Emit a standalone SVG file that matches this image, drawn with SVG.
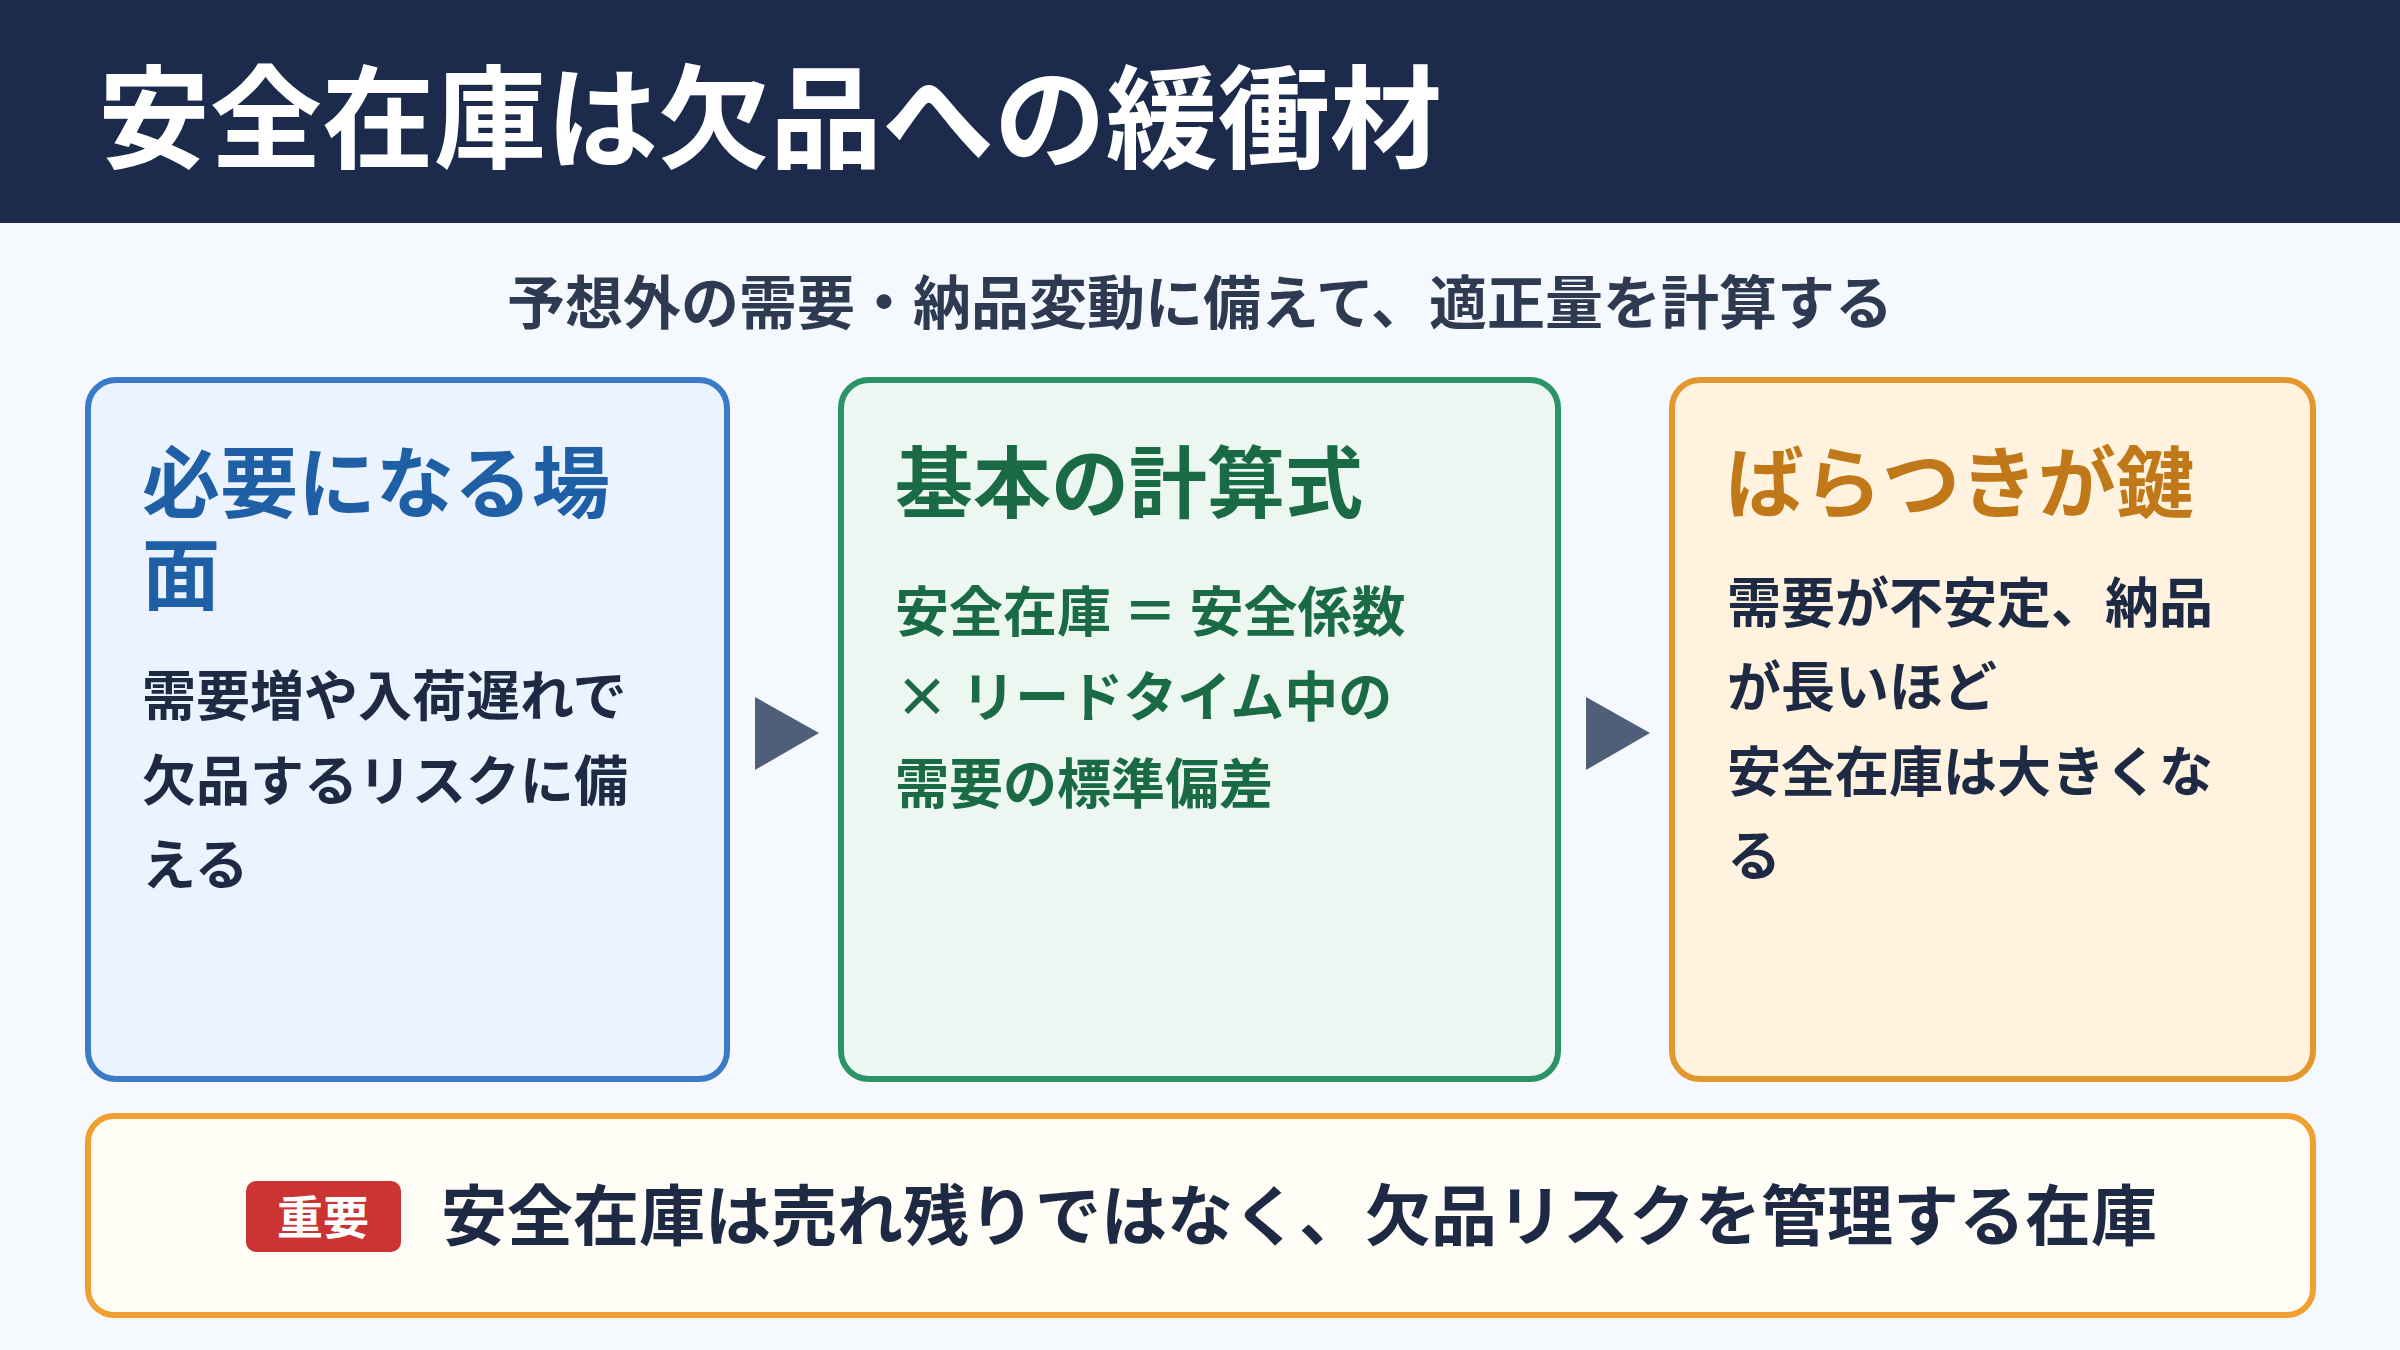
<svg xmlns="http://www.w3.org/2000/svg" width="2400" height="1350" viewBox="0 0 2400 1350">
<style>
text{font-family:"Noto Sans CJK JP","Noto Sans",sans-serif;font-weight:700}
.t{font-size:78px}
.b{font-size:54px;fill:#1e2a44}
.g{font-size:54px;fill:#1a6b45}
</style>
<rect width="2400" height="1350" fill="#f5f8fc"/>
<g id="header"><rect width="2400" height="223" fill="#1c2b4b"/>
<text x="98" y="160" font-size="112" fill="#fff">安全在庫は欠品への緩衝材</text></g>
<text id="subtitle" x="1200" y="324" font-size="58" fill="#2e3a52" text-anchor="middle">予想外の需要・納品変動に備えて、適正量を計算する</text>
<g id="box1"><rect x="88" y="380" width="639" height="699" rx="28" fill="#eaf3fe" stroke="#3a7bc8" stroke-width="6"/>
<text class="t" x="142" y="512" fill="#1f5fa6">必要になる場</text>
<text class="t" x="142" y="604" fill="#1f5fa6">面</text>
<text class="b" x="142" y="716">需要増や入荷遅れで</text>
<text class="b" x="142" y="801">欠品するリスクに備</text>
<text class="b" x="142" y="885">える</text></g>
<g id="box2"><rect x="841" y="380" width="717" height="699" rx="28" fill="#edf7f1" stroke="#2a9466" stroke-width="6"/>
<text class="t" x="895" y="512" fill="#1a6b45">基本の計算式</text>
<text class="g" x="895" y="632" xml:space="preserve">安全在庫 ＝ 安全係数</text>
<text class="g" x="895" y="717">× リードタイム中の</text>
<text class="g" x="895" y="804">需要の標準偏差</text></g>
<g id="box3"><rect x="1672" y="380" width="641" height="699" rx="28" fill="#fff3df" stroke="#e3982e" stroke-width="6"/>
<text class="t" x="1726" y="512" fill="#c07818">ばらつきが鍵</text>
<text class="b" x="1727" y="623">需要が不安定、納品</text>
<text class="b" x="1727" y="707">が長いほど</text>
<text class="b" x="1727" y="792">安全在庫は大きくな</text>
<text class="b" x="1727" y="876">る</text></g>
<g id="connectors" fill="#4f5f7a">
<polygon points="755,697 819,733 755,770"/>
<polygon points="1586,697 1650,733 1586,770"/></g>
<g id="note"><rect x="88" y="1116" width="2225" height="199" rx="26" fill="#fffdf6" stroke="#f0a030" stroke-width="6"/>
<rect x="246" y="1181" width="155" height="71" rx="10" fill="#cc3333"/>
<text x="323" y="1234" font-size="46" fill="#fff" text-anchor="middle">重要</text>
<text x="441" y="1240" font-size="66" fill="#1e2a44">安全在庫は売れ残りではなく、欠品リスクを管理する在庫</text></g>
</svg>
